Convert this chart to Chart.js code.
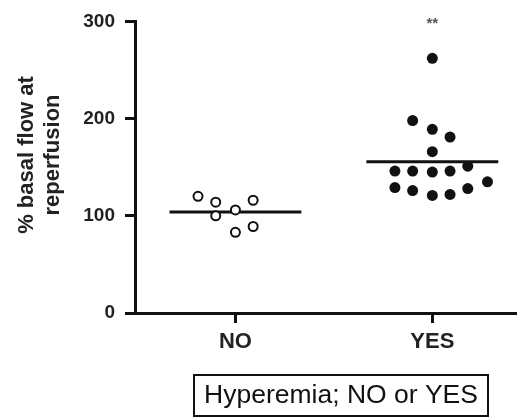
<!DOCTYPE html>
<html>
<head>
<meta charset="utf-8">
<script src="https://cdn.jsdelivr.net/npm/chart.js@4"></script>
<style>
  html, body { margin: 0; padding: 0; background: #fff; }
  #wrap { width: 517px; height: 418px; }
</style>
</head>
<body>
<div id="wrap"><canvas id="flowChart" width="517" height="418"></canvas></div>
<script>
// groups and their position on the x axis
const groups = ['NO', 'YES'];
const groupPos = [1, 2];

// % basal flow at reperfusion
const noValues = [120, 114, 100, 106, 116, 83, 89];
const noJitter = [-0.19, -0.1, -0.1, 0, 0.09, 0, 0.09];
const yesValues = [262, 198, 189, 181, 166, 146, 146, 145, 146, 151, 129, 126, 121, 122, 128, 135];
const yesJitter = [0, -0.1, 0, 0.09, 0, -0.19, -0.1, 0, 0.09, 0.18, -0.19, -0.1, 0, 0.09, 0.18, 0.28];

const yTicks = [0, 100, 200, 300];
const yTitle = ['% basal flow at', 'reperfusion'];
const sigMark = '**';
const sigValue = 297;
const boxLabel = 'Hyperemia; NO or YES';

const ink = '#111';
const font = "'Liberation Sans', Arial, sans-serif";

const mean = (arr) => arr.reduce((a, b) => a + b, 0) / arr.length;
const halfLine = 0.335;

const toPoints = (vals, jit, pos) => vals.map((v, i) => ({ x: pos + jit[i], y: v }));
const meanLine = (vals, pos) => [
  { x: pos - halfLine, y: mean(vals) },
  { x: pos + halfLine, y: mean(vals) }
];

const extras = {
  id: 'extras',
  afterDraw(chart) {
    const { ctx, scales } = chart;
    ctx.save();
    ctx.textAlign = 'center';
    ctx.textBaseline = 'middle';

    // rotated y axis title, two lines
    ctx.fillStyle = '#222';
    ctx.font = `bold 22px ${font}`;
    ctx.save();
    ctx.translate(27, 155);
    ctx.rotate(-Math.PI / 2);
    yTitle.forEach((line, i) => ctx.fillText(line, 0, i * 26));
    ctx.restore();

    // significance stars above YES
    ctx.fillStyle = '#555';
    ctx.font = `bold 15px ${font}`;
    ctx.fillText(sigMark, scales.x.getPixelForValue(groupPos[1]), scales.y.getPixelForValue(sigValue));

    // boxed caption under the axis
    ctx.strokeStyle = ink;
    ctx.lineWidth = 2;
    ctx.strokeRect(194, 375, 294, 41);
    ctx.fillStyle = ink;
    ctx.font = `26.5px ${font}`;
    ctx.fillText(boxLabel, 341, 396);
    ctx.restore();
  }
};

new Chart(document.getElementById('flowChart'), {
  type: 'scatter',
  data: {
    datasets: [
      {
        label: 'NO',
        data: toPoints(noValues, noJitter, groupPos[0]),
        pointRadius: 4.5,
        pointBorderWidth: 2,
        pointBackgroundColor: '#fff',
        pointBorderColor: ink
      },
      {
        label: 'YES',
        data: toPoints(yesValues, yesJitter, groupPos[1]),
        pointRadius: 5.5,
        pointBorderWidth: 0,
        pointBackgroundColor: ink,
        pointBorderColor: ink
      },
      {
        label: 'NO mean',
        type: 'line',
        data: meanLine(noValues, groupPos[0]),
        borderColor: ink,
        borderWidth: 3,
        pointRadius: 0
      },
      {
        label: 'YES mean',
        type: 'line',
        data: meanLine(yesValues, groupPos[1]),
        borderColor: ink,
        borderWidth: 3,
        pointRadius: 0
      }
    ]
  },
  options: {
    responsive: false,
    animation: false,
    layout: { padding: { top: 15, left: 0, right: 0, bottom: 0 }, autoPadding: false },
    scales: {
      x: {
        type: 'linear',
        min: 0.49,
        max: 2.43,
        afterFit: (s) => { s.height = 105; },
        afterBuildTicks: (s) => { s.ticks = groupPos.map((v) => ({ value: v })); },
        border: { color: ink, width: 3 },
        grid: { drawOnChartArea: false, tickLength: 10, tickWidth: 3, tickColor: ink },
        ticks: {
          color: '#222',
          padding: 6,
          font: { family: font, size: 22, weight: 'bold' },
          callback: (v) => groups[groupPos.indexOf(v)] ?? ''
        }
      },
      y: {
        min: 0,
        max: 300,
        afterFit: (s) => { s.width = 135; },
        afterBuildTicks: (s) => { s.ticks = yTicks.map((v) => ({ value: v })); },
        border: { color: ink, width: 3 },
        grid: { drawOnChartArea: false, tickLength: 10, tickWidth: 3, tickColor: ink },
        ticks: {
          color: '#222',
          padding: 10,
          font: { family: font, size: 19, weight: 'bold' }
        }
      }
    },
    plugins: {
      legend: { display: false },
      tooltip: { enabled: false }
    }
  },
  plugins: [extras]
});
</script>
</body>
</html>
